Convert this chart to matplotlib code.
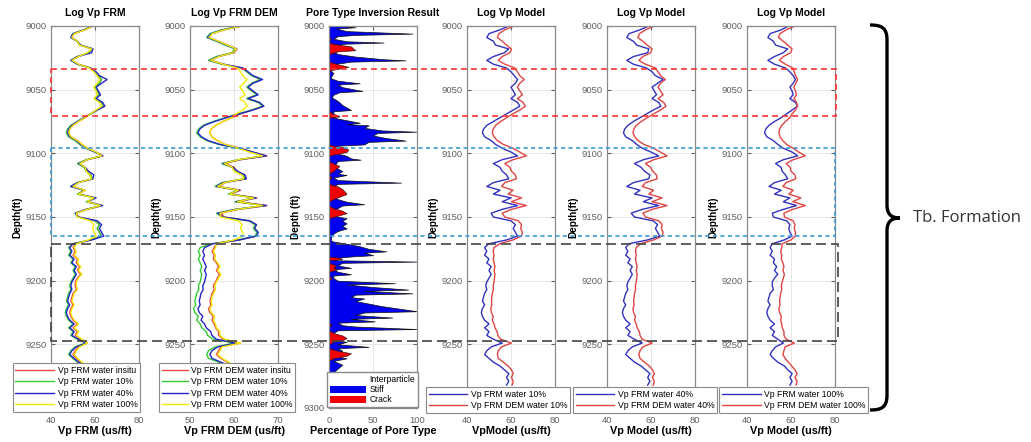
import numpy as np
import matplotlib.pyplot as plt
from matplotlib.patches import Rectangle, Patch, PathPatch
from matplotlib.path import Path

plt.rcParams['font.family'] = ['Liberation Sans', 'DejaVu Sans']

# ---------------- data ----------------
# depth samples for the velocity logs (ft)
depth = np.arange(9000, 9283, 3)

# Vp FRM logs (us/ft)
frm_insitu = [59, 55.5, 50.5, 49.5, 52, 53, 59, 57, 52.5, 49.5,
              52.5, 58, 60, 61.5, 63, 62, 60, 61, 62, 60,
              63, 64, 61, 58, 55.5, 52.5, 50, 48.5, 48, 49,
              52, 54, 56.5, 60.5, 63.5, 56.5, 53, 55.5, 56.5, 58,
              59, 52.5, 50, 55.5, 52.5, 60, 56.5, 63, 56.5, 51.5,
              52.5, 60, 62, 61, 62, 63, 58, 51, 50, 51,
              50, 52, 51.5, 53, 52, 53.5, 52, 51, 51, 51.5,
              50, 49.5, 49, 50, 49, 48.5, 49, 50, 52, 50,
              52, 51, 53.5, 56.5, 52.5, 51, 50, 51.5, 53.5, 56.5,
              58, 60, 59, 60, 59]
frm_10 = [59, 55, 50, 49, 52, 53, 59, 57, 52, 49,
          52, 58, 60, 61.5, 63, 62, 60, 61, 62, 60,
          63, 64, 61, 58, 55, 52, 49, 47.5, 47, 48,
          51, 53, 56, 60, 63, 56, 52, 55, 56, 58,
          59, 52, 49, 55, 52, 60, 56, 63, 56, 51,
          52, 60, 62, 61, 62, 63, 58, 50, 48, 49,
          48, 50, 49, 51, 50, 51, 50, 49, 48.5, 49,
          48, 47.5, 47, 48, 47, 46.5, 47, 48, 50, 48,
          50, 49, 52, 56, 51, 49, 48, 50, 52, 55,
          57, 59, 58, 59, 58]
frm_40 = [59, 55, 50, 49, 52, 53.5, 59, 58.5, 52, 49,
          52, 58, 60.5, 62, 65.5, 63, 60.5, 61.5, 62.5, 60.5,
          63.5, 64.5, 61, 58, 55, 52, 49.5, 48, 47.5, 48.5,
          51.5, 53.5, 56, 60, 63.5, 56.5, 52.5, 55.5, 57, 59.5,
          59, 52, 49, 55, 52.5, 60.5, 56.5, 63.5, 56, 51,
          52.5, 61, 63, 62, 63, 64, 58.5, 50, 48.5, 49.5,
          48.5, 50.5, 49.5, 51.5, 50.5, 51.5, 50.5, 49.5, 49, 49.5,
          48.5, 48, 47.5, 48.5, 47.5, 47, 47.5, 48.5, 50.5, 48.5,
          50.5, 49.5, 52.5, 56, 51.5, 49.5, 48.5, 50.5, 52.5, 55.5,
          57.5, 59.5, 58.5, 59.5, 58.5]
frm_100 = [59, 55.5, 50.5, 49.5, 52, 53, 58.5, 56.5, 52.5, 49.5,
           52.5, 57.5, 59.5, 61, 62, 61, 59.5, 60.5, 61, 59.5,
           62, 63, 60.5, 58, 55.5, 52.5, 50, 48.5, 48, 49,
           52, 54, 56.5, 60.5, 63, 56.5, 53, 55.5, 56, 57.5,
           58.5, 52.5, 50, 55.5, 52.5, 59.5, 56.5, 62.5, 56.5, 51.5,
           52, 58, 59.5, 59, 59.5, 60.5, 57, 51.5, 50.5, 51.5,
           50.5, 52.5, 52, 53.5, 52.5, 54, 52.5, 51.5, 51.5, 52,
           50.5, 50, 49.5, 50.5, 49.5, 49, 49.5, 50.5, 52.5, 50.5,
           52.5, 51.5, 54, 56.5, 53, 51.5, 50.5, 52, 54, 57,
           58.5, 60.5, 59.5, 60.5, 59.5]

# Vp FRM DEM logs (us/ft)
dem_insitu = [61.8, 57.8, 55, 54.3, 56.5, 58.5, 60.7, 60, 56.5, 54.7,
              57.7, 62, 63, 64.2, 66, 64.2, 63, 64.2, 65.3, 63,
              65.6, 66.6, 64.2, 61.5, 59.5, 57.5, 55.8, 54.8, 54.5, 55,
              56.2, 58, 61.5, 64.3, 67.5, 61.5, 58, 60, 60.5, 62.3,
              62.8, 58, 56.5, 61.5, 59.2, 65.2, 61, 67.5, 61, 57,
              57.8, 63.5, 65, 64.6, 65.3, 65, 61.3, 56,
              55.5, 55, 55.5, 55.3, 56, 56.5, 56, 56.7, 56.2, 55.8,
              55.3, 55.5, 55, 54.8, 54.5, 54.8, 54.2, 54.5, 55.3, 55,
              55.5, 55.8, 56.5, 56.5, 57.5, 61.5, 57, 56.5, 56, 57,
              58.5, 60, 61.5, 62.5, 61.5, 62.5, 62]
dem_10 = [61.5, 57.2, 54.5, 53.8, 56, 58, 60.2, 59.5, 56, 54.2,
          57.2, 61.7, 62.9, 64, 66, 64, 62.9, 64, 65.2, 62.9,
          65.5, 66.5, 64, 60.9, 58, 55.3, 53, 51.9, 51.5, 52.3,
          53.8, 56.5, 60.9, 64, 67, 60.9, 57.2, 59.5, 60.2, 62,
          62.5, 57.2, 55.7, 60.9, 58.7, 64.8, 60.2, 67, 60.2, 56,
          57.2, 63.3, 64.8, 64.4, 65.2, 64.8, 60.9, 54.9,
          52.3, 51.9, 52.3, 51.9, 52.3, 52.7, 52.3, 52.7, 52.5, 52.3,
          51.9, 52, 51.5, 51.3, 51.1, 51.3, 50.8, 51.1, 51.9, 51.5,
          52.3, 52.7, 53.7, 54, 55.3, 60.2, 55.7, 54.2, 53.8, 54.2,
          56.5, 58.7, 60.2, 61, 60.2, 61, 60.5]
dem_40 = [61.5, 57.5, 54.8, 54, 56.3, 58.3, 60.5, 59.8, 56.3, 54.5,
          57.5, 62, 63.2, 64.3, 66.5, 64.3, 63.2, 64.3, 65.5, 63.2,
          65.8, 66.8, 64.3, 61.2, 58.3, 55.6, 53.3, 52.2, 51.8, 52.6,
          54.1, 56.8, 61.2, 64.3, 67.3, 61.2, 57.5, 59.8, 60.8, 62.5,
          62.8, 57.5, 56, 61.2, 59, 65, 60.5, 67.3, 60.5, 56.3,
          57.5, 63.6, 65.1, 64.7, 65.5, 65.1, 61.2, 55.2,
          53.3, 52.9, 53.3, 52.9, 53.3, 53.7, 53.3, 53.7, 53.5, 53.3,
          52.9, 53, 52.5, 52.3, 52.1, 52.3, 51.8, 52.1, 52.9, 52.5,
          53.3, 53.7, 54.7, 55, 56, 60.5, 56.3, 55, 54.5, 55,
          57, 59.2, 60.7, 61.5, 60.7, 61.5, 61]
dem_100 = [61.8, 57.8, 55, 54.3, 56.5, 58.5, 60.5, 59.8, 56.5, 54.7,
           57.5, 60.8, 61.5, 62, 63, 62.2, 61.3, 62, 62.5, 61.3,
           62.5, 63, 62, 60.5, 59.5, 57.5, 55.8, 54.8, 54.5, 55,
           56.2, 58, 61, 63.5, 66.5, 61, 57.8, 59.6, 60, 61.8,
           62.2, 57.8, 56.3, 61, 59, 64.5, 60.8, 66.5, 60.8, 56.8,
           57, 61, 61.8, 61.5, 62, 62, 60, 56,
           55.8, 55.3, 55.8, 55.6, 56.3, 56.8, 56.3, 57, 56.5, 56,
           55.6, 55.8, 55.3, 55, 54.8, 55, 54.5, 54.8, 55.6, 55.3,
           55.8, 56, 56.8, 56.8, 57.8, 61.5, 57.3, 56.8, 56.3, 57.3,
           58.8, 60.3, 61.8, 62.8, 61.8, 62.8, 62.3]

# pore type inversion result (percent)
pore_depth = [9000, 9001, 9002, 9004, 9006, 9007, 9008, 9010, 9012, 9013,
              9014, 9016, 9018, 9019, 9020, 9022, 9024, 9026, 9027, 9028,
              9030, 9032, 9033, 9035, 9037, 9039, 9041, 9043, 9045, 9046,
              9048, 9050, 9051, 9052, 9054, 9056, 9058, 9060, 9062, 9064,
              9066, 9067, 9069, 9070, 9071, 9072, 9074, 9076, 9077, 9078,
              9080, 9082, 9083, 9084, 9086, 9088, 9090, 9091, 9093, 9094,
              9095, 9097, 9099, 9100, 9101, 9102, 9104, 9105, 9106, 9108,
              9110, 9112, 9114, 9116, 9117, 9119, 9121, 9123, 9124, 9126,
              9128, 9130, 9132, 9134, 9136, 9138, 9140, 9141, 9143, 9145,
              9147, 9149, 9151, 9153, 9155, 9157, 9159, 9161, 9163, 9165,
              9167, 9169, 9171, 9173, 9175, 9177, 9178, 9180, 9181, 9182,
              9183, 9184, 9185, 9186, 9188, 9190, 9191, 9193, 9195, 9196,
              9198, 9200, 9202, 9203, 9205, 9207, 9208, 9210, 9211, 9213,
              9214, 9216, 9218, 9220, 9222, 9224, 9225, 9227, 9229, 9230,
              9232, 9233, 9235, 9236, 9238, 9239, 9241, 9243, 9245, 9247,
              9248, 9250, 9252, 9253, 9255, 9257, 9259, 9261, 9263, 9266,
              9269, 9272, 9276, 9280, 9285, 9290, 9300]
stiff_pct = [15, 30, 8, 20, 95, 30, 10, 5, 20, 62,
             15, 8, 10, 5, 5, 10, 30, 60, 87, 25,
             5, 5, 3, 2, 5, 3, 2, 10, 35, 10,
             15, 30, 38, 12, 5, 3, 8, 12, 15, 20,
             25, 5, 5, 5, 8, 5, 20, 35, 20, 45,
             40, 60, 99, 55, 50, 65, 87, 45, 40, 10,
             5, 5, 5, 5, 15, 20, 25, 36, 10, 8,
             5, 10, 15, 10, 20, 5, 10, 82, 10, 5,
             5, 5, 10, 5, 10, 20, 40, 15, 10, 5,
             5, 5, 20, 15, 20, 15, 20, 10, 5, 3,
             2, 3, 20, 35, 45, 65, 40, 50, 25, 10,
             5, 10, 100, 15, 10, 25, 5, 10, 25, 5,
             5, 10, 75, 20, 50, 90, 40, 95, 30, 25,
             40, 30, 45, 60, 80, 100, 40, 30, 72, 25,
             52, 10, 15, 30, 100, 10, 5, 5, 5, 8,
             20, 10, 45, 10, 15, 10, 5, 20, 5, 15,
             10, 5, 8, 3, 2, 1, 0]
crack_pct = [0, 0, 0, 0, 0, 0, 0, 2, 0, 0,
             5, 25, 28, 30, 10, 0, 0, 0, 0, 0,
             10, 22, 15, 0, 0, 0, 0, 0, 0, 0,
             0, 0, 0, 0, 0, 0, 0, 0, 0, 0,
             0, 0, 5, 10, 12, 0, 0, 0, 0, 0,
             0, 0, 0, 0, 0, 0, 0, 0, 0, 5,
             15, 22, 20, 12, 5, 0, 0, 0, 0, 5,
             12, 8, 5, 0, 0, 3, 0, 0, 0, 10,
             15, 18, 20, 12, 5, 0, 0, 0, 5, 15,
             20, 10, 0, 0, 0, 0, 0, 0, 0, 0,
             0, 0, 0, 0, 0, 0, 0, 0, 0, 12,
             15, 0, 0, 0, 8, 5, 10, 0, 0, 0,
             3, 0, 0, 0, 0, 0, 0, 0, 0, 0,
             0, 0, 0, 0, 0, 0, 0, 0, 0, 0,
             0, 0, 3, 0, 0, 0, 5, 15, 20, 15,
             5, 0, 0, 0, 10, 25, 20, 5, 0, 0,
             0, 0, 0, 0, 0, 0, 0]

# highlighted zones (top, base in ft)
zone_top = [9033.5, 9095.5, 9171]
zone_base = [9070.5, 9165, 9247.5]

# ---------------- figure ----------------
W, H = 1031, 442
fig = plt.figure(figsize=(W / 100, H / 100), dpi=100)

c_red, c_green, c_blue, c_yel = '#f04848', '#33cc33', '#2424c8', '#f2ea00'
c_mblue, c_mred = '#3232c0', '#e04444'


def panel(left_px):
    return fig.add_axes([left_px / W, 1 - 408 / H, 88 / W, 382 / H])


def style(ax, xlim, xticks, title, xlabel, ylabel):
    ax.set_ylim(9300, 9000)
    ax.set_yticks(range(9000, 9301, 50))
    ax.set_xlim(xlim)
    ax.set_xticks(xticks)
    ax.tick_params(direction='in', length=3, labelsize=6.8, colors='#606060',
                   right=True, top=True)
    ax.tick_params(axis='x', pad=5.5)
    ax.tick_params(axis='y', pad=3)
    ax.grid(True, color='#e2e2e2', lw=0.6)
    ax.set_axisbelow(True)
    for s in ax.spines.values():
        s.set_color('#8a8a8a')
        s.set_linewidth(0.9)
    ax.set_title(title, fontsize=7.5, fontweight='bold', pad=7)
    ax.set_xlabel(xlabel, fontsize=7.8, fontweight='bold', labelpad=1)
    ax.set_ylabel(ylabel, fontsize=7.2, fontweight='bold', labelpad=2)


def leg(ax, right_px, bottom_px, **kw):
    lg = ax.legend(loc='lower right', bbox_to_anchor=(right_px / W, 1 - bottom_px / H),
                   bbox_transform=fig.transFigure, fontsize=6.2, fancybox=False,
                   edgecolor='#8a8a8a', framealpha=1, borderaxespad=0, borderpad=0.3,
                   labelspacing=0.3, handletextpad=0.4, **kw)
    lg.get_frame().set_linewidth(0.8)
    return lg


# panel 1: FRM
ax1 = panel(51)
ax1.plot(frm_insitu, depth, color=c_red, lw=1, label='Vp FRM water insitu')
ax1.plot(frm_10, depth, color=c_green, lw=1, label='Vp FRM water 10%')
ax1.plot(frm_40, depth, color=c_blue, lw=1, label='Vp FRM water 40%')
ax1.plot(frm_100, depth, color=c_yel, lw=1, label='Vp FRM water 100%')
style(ax1, (40, 80), [40, 60, 80], 'Log Vp FRM', 'Vp FRM (us/ft)', 'Depth(ft)')
leg(ax1, 140, 412, handlelength=4.5)

# panel 2: FRM DEM
ax2 = panel(190)
ax2.plot(dem_insitu, depth, color=c_red, lw=1, label='Vp FRM DEM water insitu')
ax2.plot(dem_10, depth, color=c_green, lw=1, label='Vp FRM DEM water 10%')
ax2.plot(dem_40, depth, color=c_blue, lw=1, label='Vp FRM DEM water 40%')
ax2.plot(dem_100, depth, color=c_yel, lw=1, label='Vp FRM DEM water 100%')
style(ax2, (50, 70), [50, 60, 70], 'Log Vp FRM DEM', 'Vp FRM DEM (us/ft)', 'Depth(ft)')
leg(ax2, 295, 412, handlelength=3)

# panel 3: pore type
ax3 = panel(329)
ax3.fill_betweenx(pore_depth, 0, stiff_pct, facecolor='#0000f0', edgecolor='#111111', lw=0.5)
ax3.fill_betweenx(pore_depth, 0, crack_pct, facecolor='#f00000', edgecolor='#111111', lw=0.4)
style(ax3, (0, 100), [0, 50, 100], 'Pore Type Inversion Result',
      'Percentage of Pore Type', 'Depth (ft)')
pore_handles = [Patch(facecolor='white', edgecolor='none', label='Interparticle'),
                Patch(facecolor='#0000f0', edgecolor='none', label='Stiff'),
                Patch(facecolor='#f00000', edgecolor='none', label='Crack')]
ax3.legend(handles=pore_handles, loc='lower right', bbox_to_anchor=(418 / W, 1 - 407 / H),
           bbox_transform=fig.transFigure, fontsize=6.2, fancybox=False,
           edgecolor='#8a8a8a', framealpha=1, borderaxespad=0, borderpad=0.3,
           labelspacing=0.15, handletextpad=0.4, handlelength=4.2, handleheight=0.9)

# panels 4-6: model comparison
model_sets = [(frm_10, dem_10, '10%', 'VpModel (us/ft)', 467, 570),
              (frm_40, dem_40, '40%', 'Vp Model (us/ft)', 607, 717),
              (frm_100, dem_100, '100%', 'Vp Model (us/ft)', 747, 868)]
for frm, dem, pct, xl, left, lright in model_sets:
    ax = panel(left)
    ax.plot(frm, depth, color=c_mblue, lw=1, label='Vp FRM water ' + pct)
    ax.plot(dem, depth, color=c_mred, lw=1, label='Vp FRM DEM water ' + pct)
    style(ax, (40, 80), [40, 60, 80], 'Log Vp Model', xl, 'Depth(ft)')
    leg(ax, lright, 413, handlelength=4.5)

# dashed zone boxes spanning all tracks
ov = fig.add_axes([51 / W, 1 - 408 / H, (838 - 51) / W, 382 / H])
ov.set_xlim(0, 1)
ov.set_ylim(9300, 9000)
ov.axis('off')
ov.patch.set_visible(False)
zone_colors = ['#ff3030', '#3c9ad8', '#444444']
zone_dash = [(0, (3.5, 2.5)), (0, (2.5, 2)), (0, (6, 3))]
zone_right = [0.998, 0.996, 1.0]
for top, base, col, ls, xr in zip(zone_top, zone_base, zone_colors, zone_dash, zone_right):
    ov.add_patch(Rectangle((0, top), xr, base - top, fill=False, edgecolor=col,
                           ls=ls, lw=1.2, clip_on=False))

# curly brace and formation label
brace_px = [(870, 25), (882, 25), (887, 28), (887, 40), (887, 205),
            (887, 214), (891, 218), (900, 218), (891, 218), (887, 222), (887, 231),
            (887, 395), (887, 407), (882, 410), (870, 410)]
codes = [Path.MOVETO, Path.CURVE4, Path.CURVE4, Path.CURVE4, Path.LINETO,
         Path.CURVE4, Path.CURVE4, Path.CURVE4, Path.CURVE4, Path.CURVE4, Path.CURVE4,
         Path.LINETO, Path.CURVE4, Path.CURVE4, Path.CURVE4]
verts = [(x / W, 1 - y / H) for x, y in brace_px]
fig.add_artist(PathPatch(Path(verts, codes), transform=fig.transFigure,
                         facecolor='none', edgecolor='black', lw=2.4))
fig.text(913 / W, 1 - 218 / H, 'Tb. Formation', fontsize=12, family='Open Sans',
         color='#333333', va='center', ha='left')

fig.savefig('out.png', dpi=100)
